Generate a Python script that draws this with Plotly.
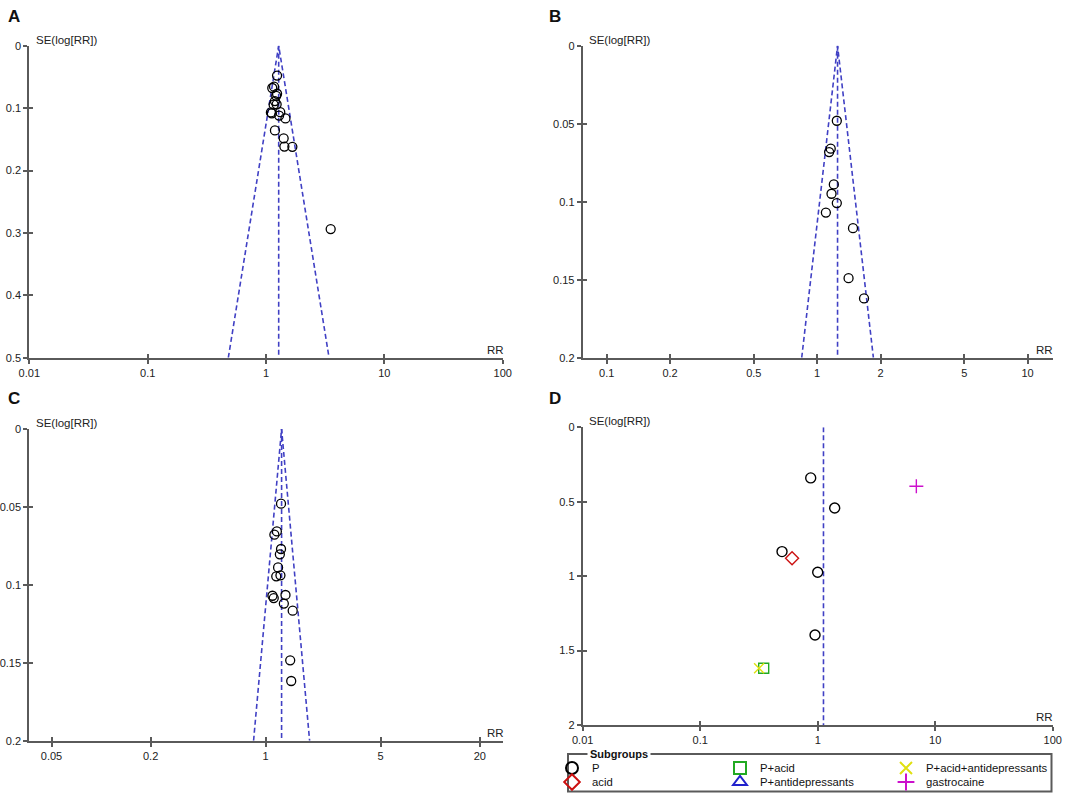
import math
import plotly.graph_objects as go

W, H = 1084, 798

# ---------------- data ----------------
rr_A = [1.24, 1.17, 1.13, 1.24, 1.22, 1.19, 1.23, 1.16, 1.32, 1.10, 1.12, 1.29, 1.46, 1.41, 1.43, 1.67, 1.19, 3.52]
se_A = [0.0479, 0.0657, 0.0678, 0.0770, 0.0804, 0.0888, 0.0939, 0.0945, 0.1065, 0.1070, 0.1085, 0.1120, 0.1166, 0.1484, 0.1617, 0.1620, 0.1357, 0.2938]
pooled_A = 1.28

rr_B = [1.24, 1.16, 1.14, 1.20, 1.17, 1.24, 1.10, 1.48, 1.41, 1.67]
se_B = [0.0481, 0.0660, 0.0682, 0.0889, 0.0949, 0.1009, 0.1070, 0.1170, 0.1490, 0.1620]
pooled_B = 1.25

rr_C = [1.24, 1.17, 1.13, 1.24, 1.22, 1.19, 1.23, 1.16, 1.32, 1.10, 1.12, 1.29, 1.46, 1.41, 1.43]
se_C = [0.0479, 0.0657, 0.0678, 0.0770, 0.0804, 0.0888, 0.0939, 0.0945, 0.1065, 0.1070, 0.1085, 0.1120, 0.1166, 0.1484, 0.1617]
pooled_C = 1.25

subgroups = ["P", "acid", "P+acid", "P+antidepressants", "P+acid+antidepressants", "gastrocaine"]
rr_D = {
    "P": [0.872, 1.395, 0.497, 1.00, 0.949],
    "acid": [0.605],
    "P+acid": [0.347],
    "P+antidepressants": [],
    "P+acid+antidepressants": [0.317],
    "gastrocaine": [6.91],
}
se_D = {
    "P": [0.340, 0.542, 0.835, 0.974, 1.395],
    "acid": [0.880],
    "P+acid": [1.619],
    "P+antidepressants": [],
    "P+acid+antidepressants": [1.619],
    "gastrocaine": [0.396],
}
pooled_D = 1.12

ticks_A = [0.01, 0.1, 1, 10, 100]
ticks_B = [0.1, 0.2, 0.5, 1, 2, 5, 10]
ticks_C = [0.05, 0.2, 1, 5, 20]
ticks_D = [0.01, 0.1, 1, 10, 100]
yticks_A = [0, 0.1, 0.2, 0.3, 0.4, 0.5]
yticks_B = [0, 0.05, 0.1, 0.15, 0.2]
yticks_C = [0, 0.05, 0.1, 0.15, 0.2]
yticks_D = [0, 0.5, 1, 1.5, 2]
z_crit = 1.96

# ---------------- styles ----------------
FONT = "Liberation Sans, Arial, sans-serif"
AXC = "#5a5a5a"
FUNNEL = "#4040c4"
sub_style = {
    "P": dict(symbol="circle-open", color="#000000"),
    "acid": dict(symbol="diamond-open", color="#cc1111"),
    "P+acid": dict(symbol="square-open", color="#22aa22"),
    "P+antidepressants": dict(symbol="triangle-up-open", color="#2222cc"),
    "P+acid+antidepressants": dict(symbol="x-thin-open", color="#e0e010"),
    "gastrocaine": dict(symbol="cross-thin-open", color="#cc10cc"),
}
# legend slot (left px, row px) for each subgroup
legend_pos = {
    "P": (552, 768), "acid": (552, 782),
    "P+acid": (720, 768), "P+antidepressants": (720, 782),
    "P+acid+antidepressants": (886, 768), "gastrocaine": (886, 782),
}

def px_x(p):
    return p / W

def px_y(p):
    return 1 - p / H

panels = [
    dict(xd=(29.3, 502.7), yd=(45.7, 357.7), xr=(-2, 2), ymax=0.5, xt=ticks_A, yt=yticks_A, pooled=pooled_A, funnel=True),
    dict(xd=(582.7, 1053.3), yd=(45.7, 357.7), xr=(-1.114, 1.122), ymax=0.2, xt=ticks_B, yt=yticks_B, pooled=pooled_B, funnel=True),
    dict(xd=(29.3, 503.3), yd=(429.0, 740.7), xr=(-1.436, 1.444), ymax=0.2, xt=ticks_C, yt=yticks_C, pooled=pooled_C, funnel=True),
    dict(xd=(582.7, 1052.7), yd=(427.3, 725.0), xr=(-2, 2), ymax=2.0, xt=ticks_D, yt=yticks_D, pooled=pooled_D, funnel=False),
]
labels = ["A", "B", "C", "D"]

fig = go.Figure()
layout = dict(
    width=W, height=H, margin=dict(l=0, r=0, t=0, b=0, autoexpand=False),
    paper_bgcolor="white", plot_bgcolor="white",
    font=dict(family=FONT, size=11, color="#222222"),
    showlegend=True,
)

def tick_text(v):
    return "%g" % v

for i, p in enumerate(panels, start=1):
    xa = "x" if i == 1 else "x%d" % i
    ya = "y" if i == 1 else "y%d" % i
    xd = [px_x(p["xd"][0]), px_x(p["xd"][1])]
    yd = [px_y(p["yd"][1]), px_y(p["yd"][0])]
    layout["xaxis%d" % i] = dict(
        domain=xd, type="log", range=list(p["xr"]), anchor=ya,
        tickvals=p["xt"], ticktext=[tick_text(v) for v in p["xt"]],
        ticks="outside", ticklen=4, tickwidth=1.5, tickcolor=AXC,
        showline=True, linecolor=AXC, linewidth=2, showgrid=False, zeroline=False,
        tickfont=dict(size=11, color="#222222"), fixedrange=True,
    )
    layout["yaxis%d" % i] = dict(
        domain=yd, range=[p["ymax"], 0], anchor=xa,
        tickvals=p["yt"], ticktext=[tick_text(v) for v in p["yt"]],
        ticks="outside", ticklen=4, tickwidth=1.5, tickcolor=AXC,
        showline=True, linecolor=AXC, linewidth=2, showgrid=False, zeroline=False,
        tickfont=dict(size=11, color="#222222"), fixedrange=True,
    )
    # overlay axes giving the inner half of the crossing tick marks
    j = i + 4
    layout["xaxis%d" % j] = dict(
        overlaying=xa, anchor=ya, type="log", range=list(p["xr"]),
        tickvals=p["xt"], ticks="inside", ticklen=4, tickwidth=1.5, tickcolor=AXC,
        showticklabels=False, showline=False, showgrid=False, zeroline=False, fixedrange=True,
    )
    layout["yaxis%d" % j] = dict(
        overlaying=ya, anchor=xa, range=[p["ymax"], 0],
        tickvals=p["yt"], ticks="inside", ticklen=4, tickwidth=1.5, tickcolor=AXC,
        showticklabels=False, showline=False, showgrid=False, zeroline=False, fixedrange=True,
    )
    fig.add_trace(go.Scatter(x=[None], y=[None], xaxis="x%d" % j, yaxis=ya, showlegend=False, hoverinfo="skip"))
    fig.add_trace(go.Scatter(x=[None], y=[None], xaxis=xa, yaxis="y%d" % j, showlegend=False, hoverinfo="skip"))

    pooled = p["pooled"]
    ymax = p["ymax"]
    if p["funnel"]:
        lo = math.exp(math.log(pooled) - z_crit * ymax)
        hi = math.exp(math.log(pooled) + z_crit * ymax)
        fig.add_trace(go.Scatter(x=[lo, pooled, hi], y=[ymax, 0, ymax], mode="lines",
                                 line=dict(color=FUNNEL, width=1.6, dash="5px,3px"),
                                 xaxis=xa, yaxis=ya, showlegend=False, hoverinfo="skip"))
    fig.add_trace(go.Scatter(x=[pooled, pooled], y=[0, ymax], mode="lines",
                             line=dict(color=FUNNEL, width=1.6, dash="5px,3px"),
                             xaxis=xa, yaxis=ya, showlegend=False, hoverinfo="skip"))

for i, (rr, se) in enumerate([(rr_A, se_A), (rr_B, se_B), (rr_C, se_C)], start=1):
    xa = "x" if i == 1 else "x%d" % i
    ya = "y" if i == 1 else "y%d" % i
    fig.add_trace(go.Scatter(x=rr, y=se, mode="markers", xaxis=xa, yaxis=ya,
                             marker=dict(symbol="circle-open", size=9, color="black",
                                         line=dict(width=1.3, color="black")),
                             showlegend=False))

for k, g in enumerate(subgroups):
    st = sub_style[g]
    xs = rr_D[g] if rr_D[g] else [None]
    ys = se_D[g] if se_D[g] else [None]
    lid = "legend" if k == 0 else "legend%d" % (k + 1)
    fig.add_trace(go.Scatter(x=xs, y=ys, mode="markers", xaxis="x4", yaxis="y4", name=g,
                             marker=dict(symbol=st["symbol"], size=10, color=st["color"],
                                         line=dict(width=1.4, color=st["color"])),
                             showlegend=True, legend=lid))
    lx, ly = legend_pos[g]
    layout[lid] = dict(
        x=px_x(lx), y=px_y(ly), xanchor="left", yanchor="middle",
        bgcolor="rgba(0,0,0,0)", borderwidth=0,
        font=dict(family=FONT, size=11.3, color="#111111"),
        itemwidth=30, itemsizing="constant",
    )

ann = []
for lab, (lx, ly) in zip(labels, [(14, 17), (555, 17), (14, 398), (555, 398)]):
    ann.append(dict(text="<b>%s</b>" % lab, x=px_x(lx), y=px_y(ly), xref="paper", yref="paper",
                    xanchor="center", yanchor="middle", showarrow=False,
                    font=dict(family=FONT, size=17, color="#111111")))
for (sx, sy) in [(34, 40), (587, 40), (34, 423), (587, 421)]:
    ann.append(dict(text="SE(log[RR])", x=px_x(sx), y=px_y(sy), xref="paper", yref="paper",
                    xanchor="left", yanchor="middle", showarrow=False,
                    font=dict(family=FONT, size=11.5, color="#222222")))
for (rx, ry) in [(495, 350), (1044, 350), (495, 733), (1044, 717)]:
    ann.append(dict(text="RR", x=px_x(rx), y=px_y(ry), xref="paper", yref="paper",
                    xanchor="center", yanchor="middle", showarrow=False,
                    font=dict(family=FONT, size=11.5, color="#222222")))
ann.append(dict(text="<b>Subgroups</b>", x=px_x(587), y=px_y(754), xref="paper", yref="paper",
                xanchor="left", yanchor="middle", showarrow=False, bgcolor="white",
                borderpad=2, font=dict(family=FONT, size=11, color="#111111")))
layout["annotations"] = ann
layout["shapes"] = [dict(type="rect", xref="paper", yref="paper",
                         x0=px_x(568), x1=px_x(1051.5), y0=px_y(791.5), y1=px_y(754),
                         line=dict(color=AXC, width=2), fillcolor="rgba(0,0,0,0)", layer="below")]

fig.update_layout(**layout)
fig.write_html("out.html", config={"displayModeBar": False},
               post_script="document.body.style.margin='0px';document.body.style.padding='0px';")
